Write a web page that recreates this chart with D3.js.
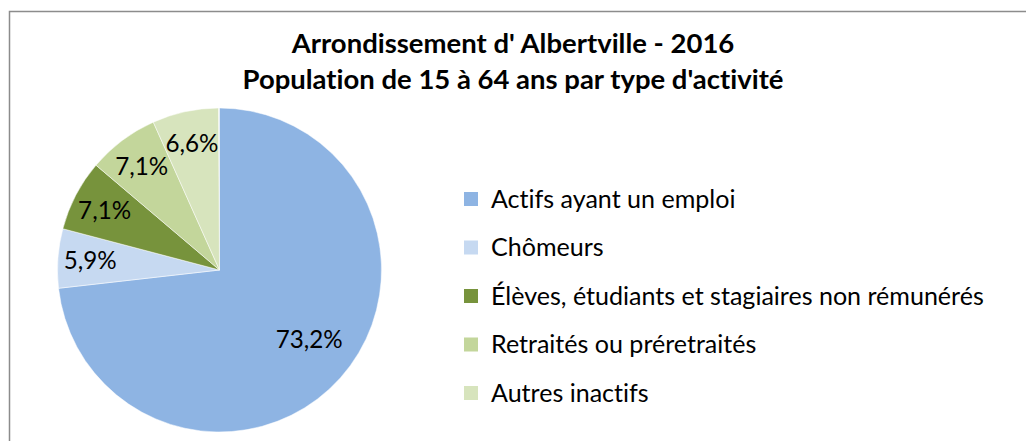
<!DOCTYPE html>
<html>
<head>
<meta charset="utf-8">
<script src="https://cdn.jsdelivr.net/npm/d3@7"></script>
<style>
    body { margin: 0; background: #fff; }
    text { font-family: Lato, "Open Sans", sans-serif; fill: #000; font-variant-ligatures: none; }
</style>
</head>
<body>
<svg id="chart" width="1026" height="441"></svg>
<script>
const titleLines = ["Arrondissement d' Albertville - 2016", "Population de 15 à 64 ans par type d'activité"];
const categories = ["Actifs ayant un emploi", "Chômeurs", "Élèves, étudiants et stagiaires non rémunérés", "Retraités ou préretraités", "Autres inactifs"];
const values = [73.2, 5.9, 7.1, 7.1, 6.6];
const colors = ["#8EB4E3", "#C6D9F1", "#77933C", "#C3D69B", "#D7E4BD"];

const svg = d3.select("#chart");

// chart frame
svg.append("rect")
    .attr("x", 9.5)
    .attr("y", 11.5)
    .attr("width", 1030)
    .attr("height", 440)
    .attr("fill", "#fff")
    .attr("stroke", "#8c8c8c")
    .attr("stroke-width", 1.5);

// scale a text element's font so it spans a given width
function fitWidth(sel, width) {
    sel.each(function () {
        const w = this.getComputedTextLength();
        const fs = parseFloat(d3.select(this).attr("font-size"));
        d3.select(this).attr("font-size", fs * width / w);
    });
}

const title = svg.append("g")
    .selectAll("text")
    .data(titleLines)
    .enter()
    .append("text")
    .attr("x", 513)
    .attr("y", function (d, i) {
        return 53 + i * 36;
    })
    .attr("text-anchor", "middle")
    .attr("font-weight", "bold")
    .attr("font-size", 22)
    .text(function (d) {
        return d;
    });
fitWidth(title.filter(function (d, i) { return i === 1; }), 541);
title.filter(function (d, i) { return i === 0; })
    .attr("font-size", title.filter(function (d, i) { return i === 1; }).attr("font-size"));

// pie
const cx = 219.5, cy = 270, r = 162;
const total = d3.sum(values);
const pie = d3.pie().sort(null).value(function (d) {
    return d;
}).startAngle(0).endAngle(2 * Math.PI * total / 100);
const arc = d3.arc().innerRadius(0).outerRadius(r);

const slices = svg.append("g")
    .attr("transform", "translate(" + cx + "," + cy + ")")
    .selectAll("g")
    .data(pie(values))
    .enter()
    .append("g");

slices.append("path")
    .attr("d", arc)
    .attr("fill", function (d, i) {
        return colors[i];
    })
    .attr("stroke", "#fff")
    .attr("stroke-width", 0.5);

const labelFmt = d3.format(".1f");
const labels = slices.append("text")
    .attr("transform", function (d) {
        const share = (d.endAngle - d.startAngle) / (2 * Math.PI);
        const lr = share > 0.5 ? r * 0.7 : r * 0.8;
        const a = (d.startAngle + d.endAngle) / 2 - (share > 0.5 ? 0.07 : 0);
        return "translate(" + (lr * Math.sin(a)) + "," + (-lr * Math.cos(a)) + ")";
    })
    .attr("text-anchor", "middle")
    .attr("dy", "0.35em")
    .attr("font-size", 20)
    .text(function (d) {
        return labelFmt(d.data).replace(".", ",") + "%";
    });
fitWidth(labels.filter(function (d, i) { return i === 0; }), 67);
labels.attr("font-size", labels.filter(function (d, i) { return i === 0; }).attr("font-size"));

// legend
const legend = svg.append("g")
    .selectAll("g")
    .data(categories)
    .enter()
    .append("g")
    .attr("transform", function (d, i) {
        return "translate(464," + (199 + i * 48.5) + ")";
    });

legend.append("rect")
    .attr("x", 0)
    .attr("y", -7)
    .attr("width", 14)
    .attr("height", 14)
    .attr("fill", function (d, i) {
        return colors[i];
    });

const legendText = legend.append("text")
    .attr("x", 27)
    .attr("dy", "0.35em")
    .attr("font-size", 20)
    .text(function (d) {
        return d;
    });
fitWidth(legendText.filter(function (d, i) { return i === 2; }), 493);
legendText.attr("font-size", legendText.filter(function (d, i) { return i === 2; }).attr("font-size"));
</script>
</body>
</html>
